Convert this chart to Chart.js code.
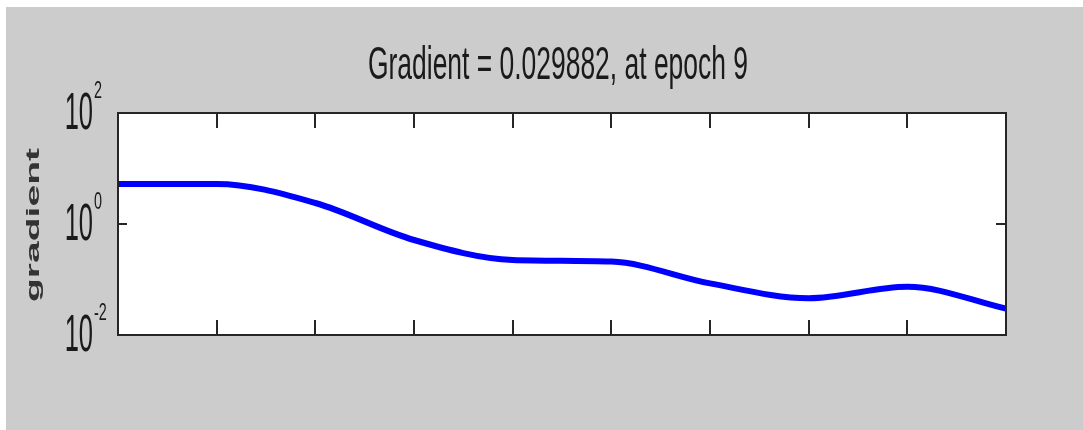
<!DOCTYPE html>
<html>
<head>
<meta charset="utf-8">
<script src="https://cdn.jsdelivr.net/npm/chart.js@4"></script>
<style>
  html, body { margin: 0; padding: 0; background: #ffffff; }
  #wrap { width: 1083px; height: 430px; position: relative; }
</style>
</head>
<body>
<div id="wrap"><canvas id="gradChart"></canvas></div>
<script>
// values
const epochs = [0, 1, 2, 3, 4, 5, 6, 7, 8, 9];
const gradient = [5.25, 5.25, 2.39, 0.515, 0.225, 0.21, 0.085, 0.046, 0.074, 0.029882];
const xTicks = [1, 2, 3, 4, 5, 6, 7, 8];
const yTicks = [100, 1, 0.01];
const yTickSup = ['2', '0', '-2'];
const titleText = 'Gradient = 0.029882, at epoch 9';
const yTitle = 'gradient';

function stretchText(ctx, text, font, x, y, sx, sy, align, baseline) {
  ctx.save();
  ctx.font = font;
  ctx.textAlign = align || 'left';
  ctx.textBaseline = baseline || 'alphabetic';
  ctx.translate(x, y);
  ctx.scale(sx, sy);
  ctx.fillText(text, 0, 0);
  ctx.restore();
}

const matlabLook = {
  id: 'matlabLook',
  beforeDraw(chart) {
    const ctx = chart.ctx;
    const a = chart.chartArea;
    ctx.save();
    ctx.fillStyle = '#ffffff';
    ctx.fillRect(0, 0, chart.width, chart.height);
    ctx.fillStyle = '#cccccc';
    ctx.fillRect(6, 7, chart.width - 6, chart.height - 7);
    ctx.fillStyle = '#ffffff';
    ctx.fillRect(a.left, a.top, a.right - a.left, a.bottom - a.top);
    ctx.restore();
  },
  afterDraw(chart) {
    const ctx = chart.ctx;
    const a = chart.chartArea;
    const xs = chart.scales.x;
    const ys = chart.scales.y;
    ctx.save();
    ctx.strokeStyle = '#262626';
    ctx.lineWidth = 2;
    ctx.strokeRect(a.left, a.top, a.right - a.left, a.bottom - a.top);

    // inward ticks
    ctx.beginPath();
    xTicks.forEach((t) => {
      const px = Math.round(xs.getPixelForValue(t));
      ctx.moveTo(px, a.bottom);
      ctx.lineTo(px, a.bottom - 15);
      ctx.moveTo(px, a.top);
      ctx.lineTo(px, a.top + 15);
    });
    const p1 = ys.getPixelForValue(1);
    ctx.moveTo(a.left, p1);
    ctx.lineTo(a.left + 9, p1);
    ctx.moveTo(a.right, p1);
    ctx.lineTo(a.right - 10, p1);
    ctx.stroke();

    // y tick labels (10 with superscript)
    ctx.fillStyle = '#1a1a1a';
    yTicks.forEach((v, i) => {
      const py = ys.getPixelForValue(v);
      stretchText(ctx, '10', '51px "Liberation Sans"', 93, py + 16, 0.5, 1, 'right');
      stretchText(ctx, yTickSup[i], '24px "Liberation Sans"', 94, py - 15, 0.6, 1, 'left');
    });

    // title
    ctx.font = '47px "Liberation Sans"';
    const tw = ctx.measureText(titleText).width;
    stretchText(ctx, titleText, '47px "Liberation Sans"', 558, 79, 380 / tw, 1, 'center');

    // y axis title
    ctx.font = 'bold 19px "Liberation Sans"';
    const gw = ctx.measureText(yTitle).width;
    ctx.save();
    ctx.fillStyle = '#333333';
    ctx.translate(34, 225);
    ctx.rotate(-Math.PI / 2);
    ctx.scale(154 / gw, 1);
    ctx.font = 'bold 19px "Liberation Sans"';
    ctx.textAlign = 'center';
    ctx.textBaseline = 'middle';
    ctx.fillText(yTitle, 0, 0);
    ctx.restore();
    ctx.restore();
  }
};

new Chart(document.getElementById('gradChart'), {
  type: 'line',
  data: {
    datasets: [{
      label: yTitle,
      data: epochs.map((e, i) => ({ x: e, y: gradient[i] })),
      borderColor: '#0000ff',
      borderWidth: 6,
      pointRadius: 0,
      fill: false,
      cubicInterpolationMode: 'monotone'
    }]
  },
  options: {
    responsive: true,
    maintainAspectRatio: false,
    animation: false,
    layout: { padding: { left: 118, top: 113, right: 77, bottom: 95 } },
    plugins: {
      legend: { display: false },
      title: { display: false },
      tooltip: { enabled: false }
    },
    scales: {
      x: { type: 'linear', min: 0, max: 9, display: false },
      y: { type: 'logarithmic', min: 0.01, max: 100, display: false }
    }
  },
  plugins: [matlabLook]
});
</script>
</body>
</html>
